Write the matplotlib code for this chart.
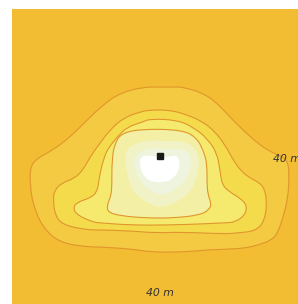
import matplotlib
matplotlib.use("Agg")
import matplotlib.pyplot as plt
from matplotlib.path import Path
from matplotlib.patches import PathPatch
import numpy as np

# Contour outlines (metres), outermost to innermost
level1_x = [40.0, 44.05, 46.2, 51.6, 55.4, 58.9, 62.4, 67.0, 70.5, 73.2, 74.6, 74.9, 74.6, 73.2, 71.9, 70.3, 66.5, 63.0, 58.9, 52.7, 46.2, 37.3, 32.7, 23.8, 20.3, 13.0, 8.4, 5.7, 4.9, 4.9, 6.8, 11.1, 15.7, 20.3, 24.6, 29.2, 35.4]
level1_y = [58.9, 58.9, 58.9, 57.3, 54.6, 50.8, 47.3, 43.2, 41.1, 40.0, 38.6, 35.1, 28.9, 23.5, 19.7, 17.6, 16.2, 15.4, 15.1, 14.9, 14.3, 14.3, 15.1, 15.7, 15.7, 16.8, 20.8, 27.0, 32.4, 37.3, 39.7, 41.9, 45.4, 50.0, 54.1, 57.3, 58.9]

level2_x = [37.3, 42.7, 47.3, 51.6, 54.9, 57.6, 59.5, 61.6, 64.3, 67.0, 68.4, 68.9, 68.1, 65.7, 61.1, 57.6, 46.2, 38.1, 32.7, 23.8, 20.3, 13.8, 11.6, 11.1, 11.6, 13.5, 17.0, 19.2, 21.1, 23.8, 26.5, 30.0, 34.6]
level2_y = [52.7, 52.7, 51.4, 49.5, 46.8, 43.2, 39.7, 36.5, 34.3, 33.0, 31.1, 27.0, 22.4, 20.0, 19.5, 19.2, 19.7, 19.5, 20.0, 20.3, 20.3, 21.6, 24.3, 28.9, 31.1, 33.0, 34.3, 36.5, 40.0, 43.8, 47.3, 50.5, 52.2]

level3_x = [37.3, 44.6, 48.9, 52.7, 55.4, 56.2, 56.8, 58.9, 61.6, 63.5, 63.0, 60.3, 57.6, 50.8, 41.9, 31.9, 23.8, 21.9, 17.6, 16.5, 17.6, 21.1, 23.0, 23.5, 24.1, 24.9, 25.7, 28.4, 31.1, 35.4]
level3_y = [50.3, 50.0, 48.1, 45.1, 41.1, 36.5, 32.4, 30.5, 28.9, 27.0, 24.3, 22.4, 22.2, 21.9, 21.6, 21.6, 22.2, 22.4, 24.3, 26.2, 27.8, 28.9, 30.5, 33.8, 37.0, 39.7, 41.9, 45.4, 48.1, 49.5]

level4_x = [35.4, 46.2, 50.0, 51.6, 52.7, 52.7, 53.0, 53.8, 53.5, 50.8, 43.5, 36.5, 29.2, 25.9, 25.7, 26.8, 27.0, 27.0, 27.8, 29.7]
level4_y = [47.6, 47.3, 45.1, 41.9, 38.6, 32.4, 29.7, 27.6, 25.9, 24.3, 23.5, 23.5, 24.1, 25.1, 27.0, 29.7, 32.4, 39.2, 43.8, 46.5]

level5_x = [31.1, 34.6, 39.2, 40.8, 44.6, 48.9, 50.8, 50.0, 48.1, 44.6, 40.0, 36.5, 32.7, 31.1, 30.5]
level5_y = [42.4, 44.1, 44.6, 44.1, 44.6, 43.2, 39.7, 34.3, 30.5, 27.8, 26.2, 27.6, 30.5, 35.1, 39.7]

level6_x = [32.7, 35.4, 39.5, 41.9, 45.4, 48.1, 48.6, 47.3, 44.6, 41.4, 38.1, 35.4, 33.2]
level6_y = [40.0, 41.9, 42.4, 41.9, 42.4, 41.1, 37.8, 34.3, 31.6, 29.7, 30.3, 32.4, 35.9]

level7_x = [34.6, 36.8, 39.2, 41.9, 44.6, 45.4, 44.9, 43.2, 40.8, 38.1, 35.9, 34.6]
level7_y = [40.0, 40.5, 40.0, 40.0, 40.5, 38.6, 35.9, 33.8, 33.2, 33.2, 34.3, 37.0]

source_x = [40.1]
source_y = [40.3]

label_text = "40 m"
bottom_label_pos = (40.0, 3.2)
right_label_pos = (70.5, 39.5)

bg_color = "#F2BD33"
fill_colors = ["#F3CA42", "#F4DB4C", "#F5EA6E", "#F3F0A6", "#F1F3C6", "#EEF4DE", "#FFFFFF"]
draw_line = [True, True, True, True, False, False, False]
line_color = "#E0962C"

levels = [
    (level1_x, level1_y),
    (level2_x, level2_y),
    (level3_x, level3_y),
    (level4_x, level4_y),
    (level5_x, level5_y),
    (level6_x, level6_y),
    (level7_x, level7_y),
]


def smooth_closed_path(xs, ys):
    """Closed outline rendered with quadratic Bezier segments through edge midpoints."""
    p = np.column_stack([xs, ys])
    n = len(p)
    mids = (p + np.roll(p, -1, axis=0)) / 2.0
    verts = [mids[-1]]
    codes = [Path.MOVETO]
    for i in range(n):
        verts += [p[i], mids[i]]
        codes += [Path.CURVE3, Path.CURVE3]
    verts.append(mids[-1])
    codes.append(Path.CLOSEPOLY)
    return Path(verts, codes)


W, H = 298, 304
fig = plt.figure(figsize=(W / 100, H / 100), dpi=100)
fig.patch.set_facecolor("white")
ax = fig.add_axes([12 / W, (H - 9 - 296) / H, 296 / W, 296 / H])
ax.set_xlim(0, 80)
ax.set_ylim(0, 80)
ax.set_facecolor(bg_color)
for s in ax.spines.values():
    s.set_visible(False)
ax.set_xticks([])
ax.set_yticks([])

for i, ((xs, ys), col) in enumerate(zip(levels, fill_colors)):
    path = smooth_closed_path(xs, ys)
    ax.add_patch(PathPatch(path, facecolor=col, edgecolor="none", zorder=2 + i))
    if draw_line[i]:
        ax.add_patch(PathPatch(path, facecolor="none", edgecolor=line_color,
                               linewidth=0.8, zorder=2 + i + 0.5))

ax.plot(source_x, source_y, marker="s", color="#1a1a1a", markersize=4.2,
        linestyle="none", zorder=20)

ax.text(bottom_label_pos[0], bottom_label_pos[1], label_text, ha="center", va="center",
        fontsize=7.8, style="italic", color="#333333", zorder=21)
ax.text(right_label_pos[0], right_label_pos[1], label_text, ha="left", va="center",
        fontsize=7.8, style="italic", color="#333333", zorder=21)

fig.savefig("out.png", dpi=100, facecolor="white")
